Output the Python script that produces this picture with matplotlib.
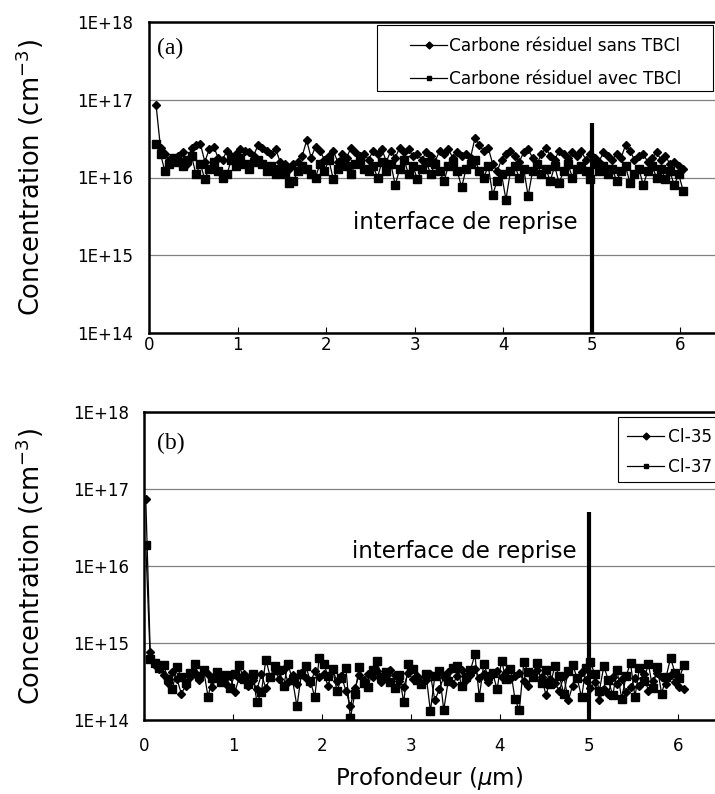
import numpy as np
import matplotlib
matplotlib.use('Agg')
import matplotlib.pyplot as plt
from matplotlib.patches import Rectangle
from matplotlib.ticker import NullLocator

plt.rcParams['font.family'] = ['DejaVu Sans']

# ---------------- data ----------------
# panel (a): residual carbon, units of 1e16 cm^-3, depth start 0.08 um, step 0.05 um
depth_a_start, depth_step = 0.08, 0.05
carbone_sans_tbcl = [
    8.5, 2.4, 2.0, 1.7, 1.6, 1.9, 2.1, 1.5, 2.4, 2.6,
    2.7, 1.6, 2.3, 2.5, 1.8, 1.7, 2.2, 1.9, 2.0, 2.3,
    2.2, 2.1, 1.9, 2.6, 2.4, 2.2, 2.0, 2.3, 1.6, 1.5,
    1.3, 1.5, 1.6, 1.9, 3.0, 1.8, 2.5, 2.2, 1.7, 1.9,
    2.2, 1.6, 2.0, 1.8, 2.4, 2.1, 1.9, 2.0, 1.7, 2.2,
    2.0, 2.3, 1.6, 2.2, 1.8, 2.4, 2.1, 2.3, 1.9, 2.0,
    1.7, 2.1, 1.9, 1.6, 2.2, 2.0, 2.3, 1.8, 2.1, 1.9,
    2.0, 1.8, 3.2, 2.6, 2.2, 2.4, 1.5, 1.2, 1.7, 2.0,
    2.2, 1.9, 1.6, 2.1, 2.3, 1.8, 1.5, 2.0, 2.4, 1.9,
    1.7, 2.2, 2.0, 1.8, 2.1, 1.9, 2.2, 1.7, 2.0, 1.8,
    1.6, 2.1, 1.9, 1.7, 2.0, 1.8, 2.6, 2.2, 1.7, 1.9,
    2.0, 1.6, 1.8, 2.1, 1.7, 1.9, 1.5, 1.6, 1.4, 1.3]
carbone_avec_tbcl = [
    2.7, 2.0, 1.2, 1.5, 1.8, 1.6, 1.4, 1.7, 1.9, 1.1,
    1.5, 0.95, 1.3, 1.6, 1.2, 1.0, 1.1, 1.7, 1.4, 1.8,
    1.5, 1.3, 1.6, 1.7, 1.5, 1.2, 1.4, 1.1, 1.3, 1.1,
    0.85, 0.9, 1.2, 1.4, 1.3, 1.1, 1.0, 1.5, 1.2, 1.7,
    0.95, 1.3, 1.6, 1.4, 1.1, 1.5, 1.7, 1.3, 1.2, 1.4,
    1.0, 1.6, 1.2, 1.5, 0.8, 1.3, 1.7, 1.1, 1.4, 0.95,
    1.3, 1.6, 1.1, 1.5, 1.2, 0.9, 1.4, 1.6, 1.2, 0.75,
    1.3, 1.5, 1.7, 1.2, 1.0, 1.4, 0.6, 0.9, 1.1, 0.52,
    1.2, 1.4, 1.0, 1.3, 0.58, 1.2, 1.5, 1.1, 1.3, 0.9,
    1.4, 0.85, 1.2, 1.5, 1.0, 1.3, 1.4, 1.2, 0.95, 1.5,
    1.2, 1.4, 1.1, 1.3, 0.9, 1.2, 1.4, 0.85, 1.1, 1.3,
    0.8, 1.2, 1.4, 1.0, 1.3, 0.95, 1.2, 0.8, 1.1, 0.68]

# panel (b): chlorine isotopes, units of 1e14 cm^-3, depth start 0.02 um, step 0.05 um
depth_b_start = 0.02
cl35 = [
    740, 7.6, 5.2, 4.6, 3.8, 3.0, 4.2, 3.4, 2.2, 2.8,
    3.6, 4.1, 3.3, 4.4, 3.9, 2.7, 3.8, 3.4, 2.9, 3.7,
    2.3, 3.5, 4.0, 2.8, 3.3, 2.5, 3.9, 2.6, 3.6, 4.4,
    3.4, 4.6, 3.1, 3.8, 2.9, 4.1, 3.5, 3.0, 4.3, 3.6,
    3.9, 2.8, 4.5, 3.2, 3.7, 2.4, 1.5, 2.6, 3.8, 3.3,
    4.0, 3.6, 4.3, 3.1, 3.5, 4.4, 3.8, 3.2, 2.7, 4.1,
    3.4, 3.7, 2.9, 3.3, 3.9, 1.8, 2.5, 3.6, 4.2, 2.9,
    3.7, 4.4, 3.3, 3.8, 4.6, 3.5, 4.0, 3.1, 3.9, 4.3,
    3.6, 4.2, 3.4, 3.7, 4.1, 3.2, 2.8, 3.9, 4.5, 3.6,
    2.1, 3.4, 3.0, 2.4, 3.7, 1.8, 2.8, 3.5, 4.2, 3.3,
    2.6, 3.1, 1.8, 2.5, 2.2, 3.6, 2.9, 3.4, 2.3, 2.7,
    3.5, 2.8, 3.9, 2.4, 3.2, 4.1, 3.6, 2.9, 3.8, 3.1,
    2.7, 2.5]
cl37 = [
    190, 6.2, 5.5, 4.8, 5.2, 3.4, 2.5, 4.9, 3.6, 3.0,
    4.1, 5.3, 3.7, 4.5, 2.0, 3.5, 4.2, 3.1, 3.8, 2.6,
    3.9, 5.2, 3.4, 2.9, 4.0, 1.7, 2.3, 6.1, 3.6, 5.1,
    4.4, 2.8, 5.3, 3.3, 1.5, 4.0, 5.0, 3.2, 2.0, 6.4,
    5.4, 3.7, 4.6, 2.4, 3.5, 4.8, 1.05, 2.2, 4.9, 3.0,
    2.7, 4.5, 5.9, 3.6, 4.2, 3.1, 2.6, 3.8, 1.7, 5.4,
    4.6, 3.3, 2.9, 4.0, 1.3, 3.7, 4.3, 1.35, 3.2, 4.7,
    5.0, 2.8, 3.6, 4.4, 7.1, 2.0, 5.3, 3.7, 4.1, 2.5,
    5.9, 3.4, 4.6, 1.9, 1.33, 5.6, 4.2, 3.6, 5.5, 3.0,
    4.5, 2.9, 5.1, 3.7, 2.2, 4.3, 5.2, 3.5, 1.97, 4.8,
    5.6, 3.9, 2.4, 5.0, 3.3, 2.1, 4.4, 1.9, 3.7, 5.5,
    2.0, 4.7, 3.2, 5.4, 2.6, 4.9, 2.2, 3.6, 6.4, 4.1,
    3.5, 5.2]

interface_depth = 5.0
interface_top = 5e16
y_ticks = [1e14, 1e15, 1e16, 1e17, 1e18]
y_tick_labels = ['1E+14', '1E+15', '1E+16', '1E+17', '1E+18']
x_ticks = [0, 1, 2, 3, 4, 5, 6]
labels_a = ['Carbone résiduel sans TBCl', 'Carbone résiduel avec TBCl']
labels_b = ['Cl-35', 'Cl-37']

depth_a = depth_a_start + depth_step * np.arange(len(carbone_sans_tbcl))
depth_b = depth_b_start + depth_step * np.arange(len(cl35))
sans = np.array(carbone_sans_tbcl) * 1e16
avec = np.array(carbone_avec_tbcl) * 1e16
c35 = np.array(cl35) * 1e14
c37 = np.array(cl37) * 1e14

# ---------------- figure ----------------
W, H = 715, 794
fig = plt.figure(figsize=(W / 100, H / 100), dpi=100)

def fx(px):
    return px / W

def fy(py):
    return 1 - py / H

axA = fig.add_axes([fx(149), fy(333), 1 - fx(149), fy(22) - fy(333)])
axB = fig.add_axes([fx(144), fy(720), 1 - fx(144), fy(412) - fy(720)])

line_kw = dict(color='black', lw=0.9, mfc='black', mec='black')

axA.plot(depth_a, sans, marker='D', ms=4.5, label=labels_a[0], **line_kw)
axA.plot(depth_a, avec, marker='s', ms=5.5, label=labels_a[1], **line_kw)
axB.plot(depth_b, c35, marker='D', ms=4.5, label=labels_b[0], **line_kw)
axB.plot(depth_b, c37, marker='s', ms=5.5, label=labels_b[1], **line_kw)

for ax, xmax, ypad, xpad in [(axA, 6.39, 11.5, 2.5), (axB, 6.42, 10.8, 12)]:
    ax.set_yscale('log')
    ax.set_ylim(1e14, 1e18)
    ax.set_xlim(0, xmax)
    ax.set_yticks(y_ticks)
    ax.set_yticklabels(y_tick_labels)
    ax.yaxis.set_minor_locator(NullLocator())
    ax.set_xticks(x_ticks)
    ax.tick_params(axis='y', length=0, pad=ypad, labelsize=12)
    ax.tick_params(axis='x', direction='in', length=4, width=0.8, pad=xpad,
                   labelsize=12)
    ax.yaxis.grid(True, color='#808080', lw=0.9)
    ax.set_axisbelow(True)
    for s in ['left', 'top', 'bottom']:
        ax.spines[s].set_linewidth(1.8)
    ax.spines['right'].set_visible(False)
    ax.plot([interface_depth, interface_depth], [1e14, interface_top],
            color='black', lw=3, solid_capstyle='butt')
    ax.set_ylabel('Concentration (cm$^{-3}$)', fontsize=18.5, va='center')

axA.yaxis.set_label_coords((30 - 149) / 566, 0.5)
axB.yaxis.set_label_coords((30 - 144) / 571, 0.5)

axB.set_xlabel('Profondeur ($\\mu$m)', fontsize=16.5, va='center')
axB.xaxis.set_label_coords(0.5, (720 - 779) / 308)

axA.text(3.57, 2.6e15, 'interface de reprise', fontsize=16.5,
         ha='center', va='center')
axB.text(3.6, 1.56e16, 'interface de reprise', fontsize=16.5,
         ha='center', va='center')

axA.text((157 - 149) / 566, (333 - 48) / 311, '(a)', transform=axA.transAxes,
         family='Liberation Serif', fontsize=17, ha='left', va='center')
axB.text((157 - 144) / 571, (720 - 443) / 308, '(b)', transform=axB.transAxes,
         family='Liberation Serif', fontsize=17, ha='left', va='center')

# legend frames (drawn in axes, below the legend)
axA.add_patch(Rectangle((fx(377), fy(91)), fx(713) - fx(377), fy(25) - fy(91),
                        transform=fig.transFigure, fc='white', ec='black',
                        lw=0.8, zorder=5, clip_on=False))
axB.add_patch(Rectangle((fx(618), fy(482)), fx(716) - fx(618), fy(417) - fy(482),
                        transform=fig.transFigure, fc='white', ec='black',
                        lw=0.8, zorder=5, clip_on=False))

# legends
legA = axA.legend(loc='center left', bbox_to_anchor=(fx(410), fy(62.5)),
                  bbox_transform=fig.transFigure, frameon=False, fontsize=12.2,
                  borderpad=0, borderaxespad=0, handlelength=2.2,
                  handletextpad=0.1, labelspacing=0.9)
legB = axB.legend(loc='center left', bbox_to_anchor=(fx(627), fy(452)),
                  bbox_transform=fig.transFigure, frameon=False, fontsize=12.2,
                  borderpad=0, borderaxespad=0, handlelength=2.2,
                  handletextpad=0.2, labelspacing=0.7)
for leg in (legA, legB):
    leg.set_zorder(10)
    for h in leg.legend_handles:
        h.set_markersize(3.5)

fig.savefig('out.png', dpi=100)
